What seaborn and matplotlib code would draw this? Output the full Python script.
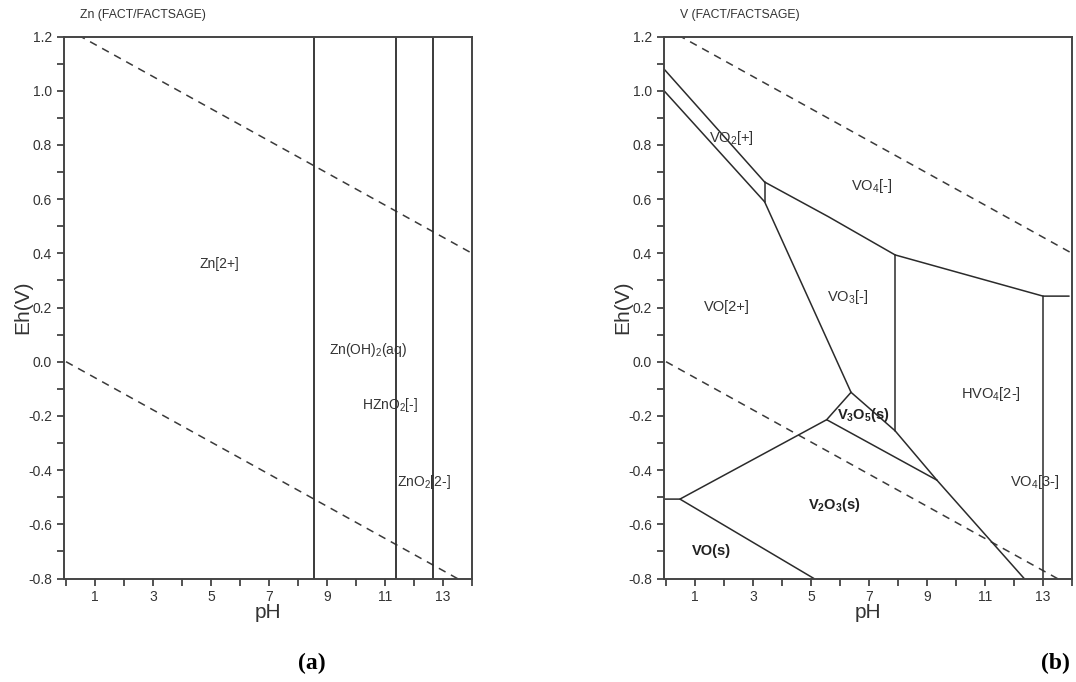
import numpy as np
import pandas as pd
import matplotlib
matplotlib.use("Agg")
import matplotlib.pyplot as plt
import seaborn as sns

# ---------------- data ----------------
# water stability (dashed) lines: endpoints (pH, Eh)
water_upper_pH = [0.0, 14.0]
water_upper_Eh = [1.23, 0.40]
water_lower_pH = [0.0, 14.0]
water_lower_Eh = [0.0, -0.83]

# Zn panel: vertical boundaries (pH)
zn_bounds_pH = [8.56, 11.37, 12.67]
zn_labels = ["Zn[2+]", "Zn(OH)$_2$(aq)", "HZnO$_2$[-]", "ZnO$_2$[2-]"]
zn_label_pH = [5.28, 10.4, 11.17, 12.35]
zn_label_Eh = [0.36, 0.043, -0.16, -0.443]

# V panel: boundary segments, each as list of (pH, Eh)
v_seg_vo2_top = [(-0.07, 1.08), (3.40, 0.663)]
v_seg_vo2_bot = [(-0.07, 1.00), (3.40, 0.59)]
v_seg_vo2_vert = [(3.40, 0.663), (3.40, 0.59)]
v_seg_vo4_vo3 = [(3.40, 0.663), (5.6, 0.535), (7.90, 0.394)]
v_seg_vo4_hvo4 = [(7.90, 0.394), (13.0, 0.242), (13.9, 0.242)]
v_seg_vo3_hvo4 = [(7.90, 0.394), (7.90, -0.255)]
v_seg_hvo4_vo43 = [(13.0, 0.242), (13.0, -0.80)]
v_seg_vo2p_vo3 = [(3.40, 0.59), (6.38, -0.113)]
v_seg_v3o5_left = [(6.38, -0.113), (5.54, -0.214)]
v_seg_v3o5_right = [(6.38, -0.113), (7.90, -0.255), (9.34, -0.437)]
v_seg_v3o5_v2o3 = [(5.54, -0.214), (9.34, -0.437)]
v_seg_v2o3_hvo4 = [(9.34, -0.437), (12.35, -0.80)]
v_seg_vo2p_v2o3 = [(5.54, -0.214), (0.48, -0.507), (-0.07, -0.507)]
v_seg_vo_v2o3 = [(0.48, -0.507), (5.10, -0.80)]
v_segments = [v_seg_vo2_top, v_seg_vo2_bot, v_seg_vo2_vert, v_seg_vo4_vo3,
              v_seg_vo4_hvo4, v_seg_vo3_hvo4, v_seg_hvo4_vo43, v_seg_vo2p_vo3,
              v_seg_v3o5_left, v_seg_v3o5_right, v_seg_v3o5_v2o3,
              v_seg_v2o3_hvo4, v_seg_vo2p_v2o3, v_seg_vo_v2o3]

v_labels = ["VO$_2$[+]", "VO$_4$[-]", "VO$_3$[-]", "VO[2+]", "HVO$_4$[2-]",
            "VO$_4$[3-]"]
v_label_pH = [2.25, 7.1, 6.25, 2.1, 11.2, 12.7]
v_label_Eh = [0.825, 0.65, 0.24, 0.20, -0.12, -0.445]
v_bold_labels = ["V$_3$O$_5$(s)", "V$_2$O$_3$(s)", "VO(s)"]
v_bold_pH = [6.8, 5.8, 1.55]
v_bold_Eh = [-0.195, -0.53, -0.70]

x_ticks = [1, 3, 5, 7, 9, 11, 13]
y_ticks = [1.2, 1.0, 0.8, 0.6, 0.4, 0.2, 0.0, -0.2, -0.4, -0.6, -0.8]

# ---------------- style ----------------
sns.set_theme(style="ticks")
plt.rcParams["font.family"] = ["Liberation Sans", "DejaVu Sans"]
plt.rcParams["axes.unicode_minus"] = False
plt.rcParams["mathtext.default"] = "regular"

fig = plt.figure(figsize=(10.76, 6.82), dpi=100)
ax1 = fig.add_axes([64 / 1076, 1 - 578.5 / 682, (472 - 64) / 1076, 542 / 682])
ax2 = fig.add_axes([664 / 1076, 1 - 578.5 / 682, (1072 - 664) / 1076, 542 / 682])

XLIM = (-0.07, 13.9)
YLIM = (-0.8, 1.2)
line_col = "#2b2b2b"
text_col = "#333333"


def seg_df(segments):
    rows = []
    for i, seg in enumerate(segments):
        for j, (x, y) in enumerate(seg):
            rows.append({"seg": i, "order": j, "pH": x, "Eh": y})
    return pd.DataFrame(rows)


def draw_water(ax):
    d = pd.DataFrame({"pH": water_upper_pH + water_lower_pH,
                      "Eh": water_upper_Eh + water_lower_Eh,
                      "seg": [0, 0, 1, 1]})
    sns.lineplot(data=d, x="pH", y="Eh", units="seg", estimator=None,
                 sort=False, ax=ax, color="#3a3a3a", lw=1.1,
                 dashes=False, linestyle=(0, (5, 4)), legend=False)


def style_axes(ax):
    ax.set_xlim(*XLIM)
    ax.set_ylim(*YLIM)
    ax.set_xticks(x_ticks)
    ax.set_xticks(range(0, 15, 2), minor=True)
    ax.set_yticks(y_ticks)
    ax.set_yticks(np.arange(-0.7, 1.2, 0.2), minor=True)
    ax.set_yticklabels([f"{v:.1f}" for v in y_ticks])
    ax.tick_params(which="both", direction="out", length=5, width=1.3,
                   color="#444444", labelsize=10, labelcolor=text_col,
                   top=False, right=False)
    for s in ax.spines.values():
        s.set_visible(True)
        s.set_linewidth(1.4)
        s.set_color("#444444")
    ax.set_xlabel("pH", fontsize=15, color=text_col, labelpad=-1)
    ax.set_ylabel("Eh(V)", fontsize=15, color=text_col, labelpad=-3)
    ax.grid(False)


# ---- panel (a) Zn ----
draw_water(ax1)
zn_df = seg_df([[(p, YLIM[0]), (p, YLIM[1])] for p in zn_bounds_pH])
sns.lineplot(data=zn_df, x="pH", y="Eh", units="seg", estimator=None,
             sort=False, ax=ax1, color=line_col, lw=1.3, legend=False)
for t, x, y in zip(zn_labels, zn_label_pH, zn_label_Eh):
    ax1.text(x, y, t, ha="center", va="center", fontsize=10, color=text_col)
style_axes(ax1)

# ---- panel (b) V ----
draw_water(ax2)
v_df = seg_df(v_segments)
sns.lineplot(data=v_df, x="pH", y="Eh", units="seg", estimator=None,
             sort=False, ax=ax2, color=line_col, lw=1.1, legend=False)
for t, x, y in zip(v_labels, v_label_pH, v_label_Eh):
    ax2.text(x, y, t, ha="center", va="center", fontsize=10.5, color=text_col)
for t, x, y in zip(v_bold_labels, v_bold_pH, v_bold_Eh):
    ax2.text(x, y, t, ha="center", va="center", fontsize=10.5,
             fontweight="bold", color="#222222")
style_axes(ax2)

# titles and panel letters
fig.text(80 / 1076, 1 - 15 / 682, "Zn (FACT/FACTSAGE)", fontsize=8.8,
         color=text_col, ha="left", va="center")
fig.text(680 / 1076, 1 - 15 / 682, "V (FACT/FACTSAGE)", fontsize=8.8,
         color=text_col, ha="left", va="center")
fig.text(312 / 1076, 1 - 663 / 682, "(a)", fontsize=17, fontweight="bold",
         family="Liberation Serif", ha="center", va="center", color="black")
fig.text(1055 / 1076, 1 - 663 / 682, "(b)", fontsize=17, fontweight="bold",
         family="Liberation Serif", ha="center", va="center", color="black")

fig.savefig("out.png", dpi=100)
